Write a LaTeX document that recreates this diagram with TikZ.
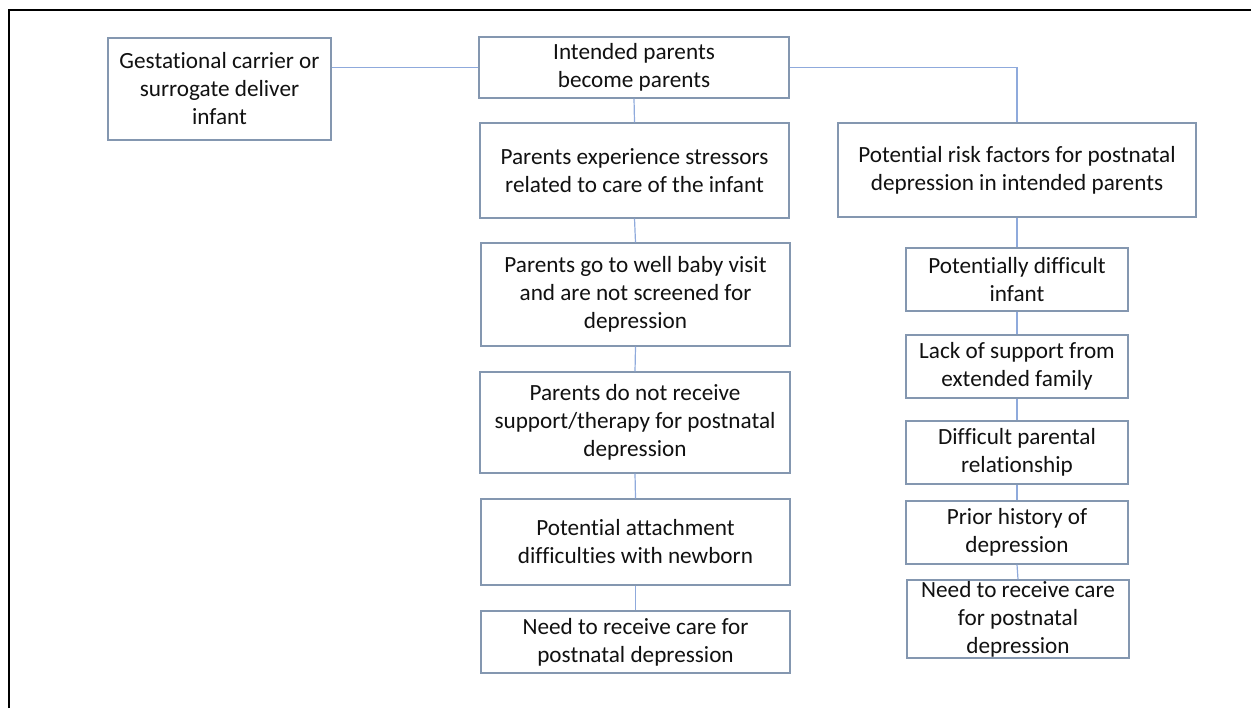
\documentclass[tikz,border=0pt]{standalone}
\usepackage{fontspec}
\setmainfont[Ligatures={NoCommon}]{Carlito}
\definecolor{boxline}{HTML}{8497B0}
\definecolor{conn}{HTML}{8FAADC}
\definecolor{txt}{HTML}{111111}
\begin{document}
\begin{tikzpicture}[x=0.75pt,y=-0.75pt,
  box/.style 2 args={draw=boxline, line width=0.9pt, fill=white, align=center, inner sep=0pt,
    text=txt, font=\fontsize{17.4}{21}\selectfont,
    minimum width=#1*0.75pt, minimum height=#2*0.75pt},
  link/.style={draw=conn, line width=0.9pt}]
\useasboundingbox (0,0) rectangle (1251,708);
\draw[line width=1.6pt, black] (9,708) -- (9,10) -- (1251,10);

\node[box={223}{102}] (gest) at (219.5,89) {Gestational carrier or\\surrogate deliver\\infant};
\node[box={310}{61}] (ip) at (634,67.5) {Intended parents\\become parents};
\node[box={309}{95}] (stress) at (634.5,170.5) {Parents experience stressors\\related to care of the infant};
\node[box={309}{103}] (well) at (635.5,294.5) {Parents go to well baby visit\\and are not screened for\\depression};
\node[box={310}{101}] (norec) at (635,422.5) {Parents do not receive\\support/therapy for postnatal\\depression};
\node[box={309}{86}] (attach) at (635.5,542) {Potential attachment\\difficulties with newborn};
\node[box={309}{62}] (needL) at (635.5,642) {Need to receive care for\\postnatal depression};

\node[box={358}{94}] (risk) at (1017,170) {Potential risk factors for postnatal\\depression in intended parents};
\node[box={222}{63}] (pdiff) at (1017,279.5) {Potentially difficult\\infant};
\node[box={222}{63}] (lack) at (1017,366.5) {Lack of support from\\extended family};
\node[box={222}{63}] (dpar) at (1017,452.5) {Difficult parental\\relationship};
\node[box={222}{63}] (prior) at (1017,532.5) {Prior history of\\depression};
\node[box={222}{78}] (needR) at (1018,619) {Need to receive care\\for postnatal\\depression};

\draw[link] (ip.west -| gest.east) -- (ip.west);
\draw[link] (ip.east) -| (risk.north);
\draw[link] (ip.south) -- (stress.north);
\draw[link] (stress.south) -- (well.north);
\draw[link] (well.south) -- (norec.north);
\draw[link] (norec.south) -- (attach.north);
\draw[link] (attach.south) -- (needL.north);
\draw[link] (risk.south) -- (pdiff.north);
\draw[link] (pdiff.south) -- (lack.north);
\draw[link] (lack.south) -- (dpar.north);
\draw[link] (dpar.south) -- (prior.north);
\draw[link] (prior.south) -- (needR.north);
\end{tikzpicture}
\end{document}
